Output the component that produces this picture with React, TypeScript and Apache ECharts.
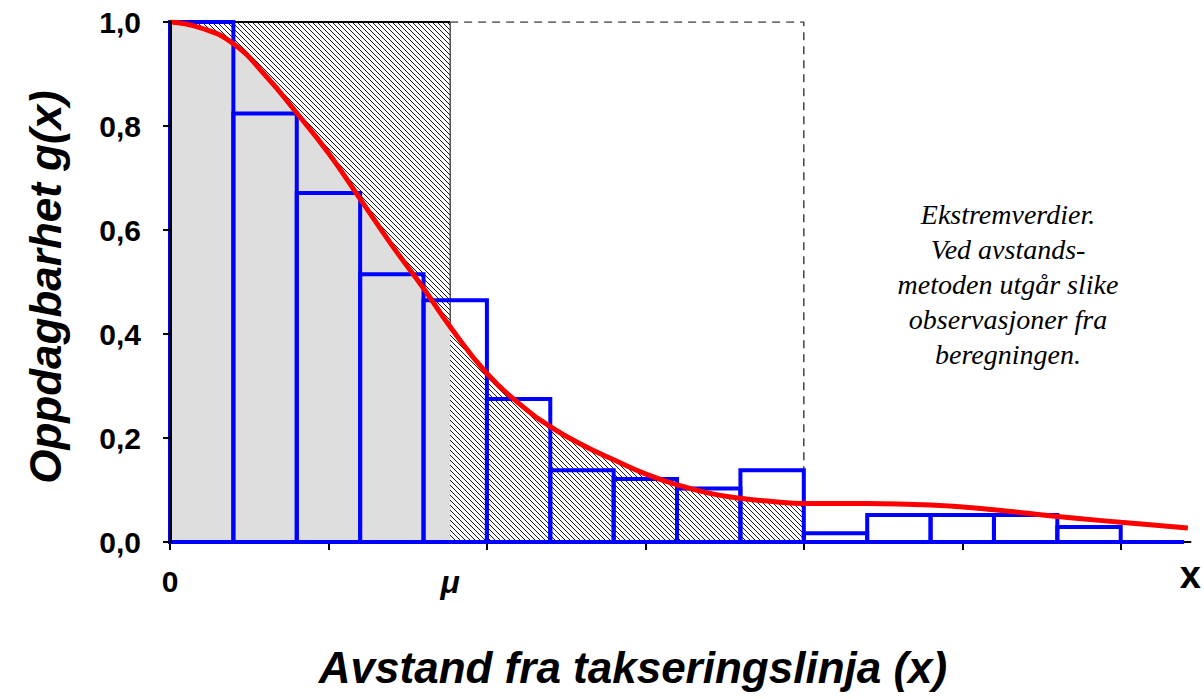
import React, { useEffect, useRef } from "react";
import * as echarts from "echarts";

// Histogram of observed detection (bins of unit width, starting at 0)
const HIST_VALUES = [1.0, 0.824, 0.671, 0.515, 0.465, 0.275, 0.138, 0.121, 0.103, 0.138, 0.017, 0.052, 0.052, 0.052, 0.029, 0.0];

// Fitted detection function g(x)
const CURVE_X = [0, 0.5, 1, 1.5, 2, 2.5, 3, 3.5, 4, 4.42, 5, 5.5, 6, 6.5, 7, 7.5, 8, 8.5, 9, 9.5, 10, 11, 12, 13, 14, 15, 16.06];
const CURVE_Y = [1.0, 0.988, 0.958, 0.898, 0.825, 0.748, 0.66, 0.571, 0.488, 0.414, 0.324, 0.267, 0.222, 0.187, 0.158, 0.131, 0.11, 0.094, 0.084, 0.078, 0.074, 0.074, 0.071, 0.062, 0.049, 0.038, 0.027];

const MU = 4.42; // effective strip half-width
const CUTOFF = 10; // truncation distance
const X_MAX = 16.1;
const X_TICKS = [0, 2.5, 5, 7.5, 10, 12.5, 15];
const X_LABEL_VALUES = [0, MU, X_MAX];
const Y_TICKS = [0, 0.2, 0.4, 0.6, 0.8, 1.0];

const Y_NAME = "Oppdagbarhet g(x)";
const X_NAME = "Avstand fra takseringslinja (x)";
const NOTE = "Ekstremverdier.\nVed avstands-\nmetoden utgår slike\nobservasjoner fra\nberegningen.";

const SANS = "'Liberation Sans', Arial, sans-serif";
const SERIF = "'Liberation Serif', 'Times New Roman', serif";

function makeHatch(): HTMLCanvasElement {
  const n = 5;
  const c = document.createElement("canvas");
  c.width = n;
  c.height = n;
  const ctx = c.getContext("2d")!;
  ctx.fillStyle = "#ffffff";
  ctx.fillRect(0, 0, n, n);
  ctx.strokeStyle = "#000000";
  ctx.lineWidth = 0.9;
  ctx.beginPath();
  for (const k of [-n, 0, n]) {
    ctx.moveTo(k, 0);
    ctx.lineTo(k + n, n);
  }
  ctx.stroke();
  return c;
}

export default function App() {
  const ref = useRef<HTMLDivElement>(null);

  useEffect(() => {
    if (!ref.current) return;
    const chart = echarts.init(ref.current, null, { renderer: "svg" });
    const hatch = { image: makeHatch(), repeat: "repeat" } as any;

    const curve = CURVE_X.map((x, i) => [x, CURVE_Y[i]]);
    const curveLeft = curve.filter((p) => p[0] <= MU);
    const curveMid = curve.filter((p) => p[0] >= MU && p[0] <= CUTOFF);
    const bins = HIST_VALUES.map((v, i) => [i, i + 1, v]);

    const smooth = 0.5;

    chart.setOption({
      animation: false,
      backgroundColor: "#ffffff",
      grid: { left: 170, top: 22, width: 1023, height: 520, containLabel: false },
      xAxis: {
        type: "value",
        min: 0,
        max: X_MAX,
        z: 3,
        axisLine: { show: true, onZero: false, lineStyle: { color: "#000", width: 2 } },
        axisTick: {
          show: true,
          customValues: X_TICKS,
          length: 8,
          inside: false,
          lineStyle: { color: "#000", width: 2 },
        },
        axisLabel: {
          show: true,
          customValues: X_LABEL_VALUES,
          margin: 24,
          color: "#000",
          fontFamily: SANS,
          fontWeight: "bold",
          fontSize: 30,
          formatter: (v: number) =>
            v === 0 ? "0" : Math.abs(v - MU) < 1e-6 ? "{mu|μ}" : "{xl|x}",
          rich: {
            mu: { fontFamily: SANS, fontWeight: "bold", fontStyle: "italic", fontSize: 32, color: "#000" },
            xl: { fontFamily: SANS, fontWeight: "bold", fontSize: 38, color: "#000", lineHeight: 18 },
          },
        },
        splitLine: { show: false },
      },
      yAxis: {
        type: "value",
        min: 0,
        max: 1,
        interval: 0.2,
        z: 10,
        axisLine: { show: true, lineStyle: { color: "#000", width: 3 } },
        axisTick: { show: true, customValues: Y_TICKS, length: 7, lineStyle: { color: "#000", width: 2 } },
        axisLabel: {
          margin: 29,
          color: "#000",
          fontFamily: SANS,
          fontWeight: "bold",
          fontSize: 30,
          formatter: (v: number) => v.toFixed(1).replace(".", ","),
        },
        splitLine: { show: false },
      },
      series: [
        // hatched box 0..mu up to 1
        {
          type: "line",
          z: 1,
          data: [
            [0, 1],
            [MU, 1],
          ],
          symbol: "none",
          lineStyle: { color: "#000", width: 2 },
          areaStyle: { color: hatch, opacity: 1, origin: "start" },
          silent: true,
        },
        // vertical line at mu
        {
          type: "line",
          z: 1,
          data: [
            [MU, 0],
            [MU, 1],
          ],
          symbol: "none",
          lineStyle: { color: "#000", width: 1 },
          silent: true,
        },
        // grey area below curve 0..mu
        {
          type: "line",
          z: 2,
          data: curveLeft,
          smooth,
          symbol: "none",
          lineStyle: { width: 0 },
          areaStyle: { color: "#dedede", opacity: 1, origin: "start" },
          silent: true,
        },
        // hatched area below curve mu..cutoff
        {
          type: "line",
          z: 2,
          data: curveMid,
          smooth,
          symbol: "none",
          lineStyle: { width: 0 },
          areaStyle: { color: hatch, opacity: 1, origin: "start" },
          silent: true,
        },
        // dashed box mu..cutoff
        {
          type: "line",
          z: 2,
          data: [
            [MU, 1],
            [CUTOFF, 1],
            [CUTOFF, 0],
          ],
          symbol: "none",
          lineStyle: { color: "#444", width: 1.5, type: [8, 6] },
          silent: true,
        },
        // histogram outlines
        {
          type: "custom",
          z: 5,
          data: bins,
          renderItem: (params: any, api: any) => {
            const p0 = api.coord([api.value(0), api.value(2)]);
            const p1 = api.coord([api.value(1), 0]);
            return {
              type: "rect",
              shape: { x: p0[0], y: p0[1], width: p1[0] - p0[0], height: p1[1] - p0[1] },
              style: { fill: "none", stroke: "#0000ff", lineWidth: 4 },
            };
          },
          silent: true,
        },
        // fitted curve
        {
          type: "line",
          z: 6,
          data: curve,
          smooth,
          symbol: "none",
          lineStyle: { color: "#ff0000", width: 5 },
          silent: true,
        },
      ],
      graphic: [
        {
          type: "text",
          x: 45,
          y: 287,
          rotation: Math.PI / 2,
          style: {
            text: Y_NAME,
            fontFamily: SANS,
            fontWeight: "bold",
            fontStyle: "italic",
            fontSize: 44,
            fill: "#000",
            align: "center",
            verticalAlign: "middle",
          },
        },
        {
          type: "text",
          x: 633,
          y: 667,
          style: {
            text: X_NAME,
            fontFamily: SANS,
            fontWeight: "bold",
            fontStyle: "italic",
            fontSize: 44,
            fill: "#000",
            align: "center",
            verticalAlign: "middle",
          },
        },
        {
          type: "text",
          x: 1008,
          y: 197,
          style: {
            text: NOTE,
            fontFamily: SERIF,
            fontStyle: "italic",
            fontSize: 28,
            lineHeight: 35,
            fill: "#000",
            align: "center",
            verticalAlign: "top",
          },
        },
      ],
    });

    return () => chart.dispose();
  }, []);

  return (
    <div
      ref={ref}
      style={{ position: "absolute", left: 0, top: 0, width: 1204, height: 699 }}
    />
  );
}
